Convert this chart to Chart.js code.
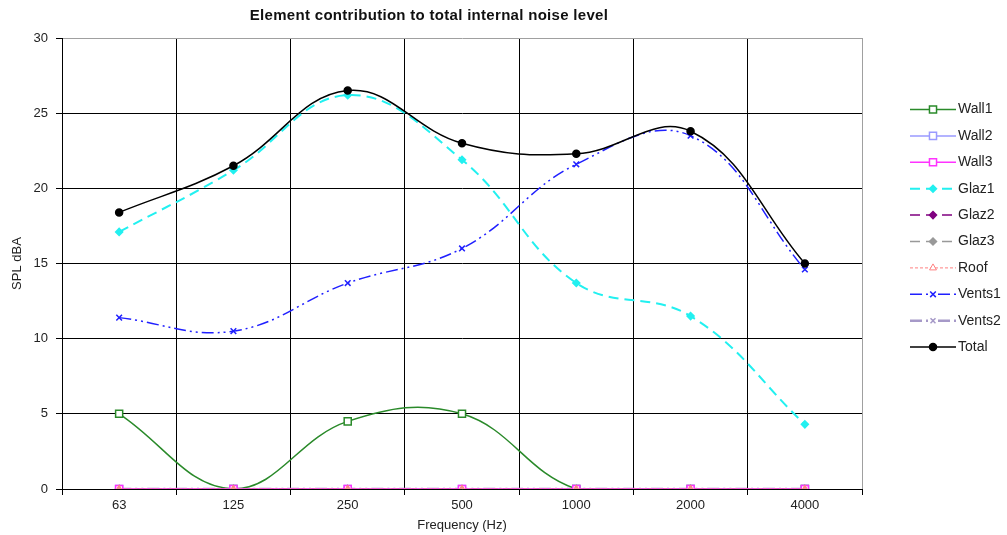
<!DOCTYPE html>
<html>
<head>
<meta charset="utf-8">
<script src="https://cdn.jsdelivr.net/npm/chart.js@4.4.1/dist/chart.umd.min.js"></script>
<style>
  html, body { margin: 0; padding: 0; background: #fff; }
  #wrap { width: 1007px; height: 535px; position: relative; }
</style>
</head>
<body>
<div id="wrap"><canvas id="noiseChart"></canvas></div>
<script>
// Frequency bands and element levels (SPL dBA)
const frequencies = ['63', '125', '250', '500', '1000', '2000', '4000'];
const wall1  = [5, 0, 4.5, 5, 0, 0, 0];
const wall2  = [0, 0, 0, 0, 0, 0, 0];
const wall3  = [0, 0, 0, 0, 0, 0, 0];
const glaz1  = [17.1, 21.2, 26.2, 21.9, 13.7, 11.5, 4.3];
const glaz2  = [0, 0, 0, 0, 0, 0, 0];
const glaz3  = [0, 0, 0, 0, 0, 0, 0];
const roof   = [0, 0, 0, 0, 0, 0, 0];
const vents1 = [11.4, 10.5, 13.7, 16.0, 21.6, 23.5, 14.6];
const vents2 = [0, 0, 0, 0, 0, 0, 0];
const total  = [18.4, 21.5, 26.5, 23.0, 22.3, 23.8, 15.0];

const yMin = 0, yMax = 30, yStep = 5;

Chart.defaults.font.family = '"Liberation Sans", Arial, sans-serif';
Chart.defaults.font.size = 13;
Chart.defaults.color = '#222';

function series(label, data, color, opts) {
  return Object.assign({
    label: label,
    data: data,
    borderColor: color,
    backgroundColor: color,
    pointBorderColor: color,
    pointBackgroundColor: '#fff',
    borderWidth: 1.5,
    pointRadius: 5,
    pointBorderWidth: 1.5,
    pointStyle: 'rect',
    tension: 0.4,
    fill: false
  }, opts || {});
}

const datasets = [
  series('Wall1', wall1, '#2a8a2a', { order: 10 }),
  series('Wall2', wall2, '#9a9aff', { order: 9 }),
  series('Wall3', wall3, '#ff33ff', { order: 2.6 }),
  series('Glaz1', glaz1, '#22f0f0', { order: 7, borderWidth: 2, borderDash: [10, 6], pointStyle: 'rectRot', pointRadius: 3.5, pointBackgroundColor: '#22f0f0' }),
  series('Glaz2', glaz2, '#800080', { order: 6, borderDash: [10, 6], pointStyle: 'rectRot', pointRadius: 3.5, pointBackgroundColor: '#800080' }),
  series('Glaz3', glaz3, '#999999', { order: 5, borderDash: [10, 6], pointStyle: 'rectRot', pointRadius: 3.5, pointBackgroundColor: '#999999' }),
  series('Roof', roof, '#ff8080', { order: 2.4, borderWidth: 1, borderDash: [3, 2], pointStyle: 'triangle', pointRadius: 4, pointBorderWidth: 1, pointBackgroundColor: '#f09090', legendFill: '#fff' }),
  series('Vents1', vents1, '#2020ff', { order: 3, borderDash: [12, 4, 2, 4, 2, 4], pointStyle: 'crossRot', pointRadius: 4 }),
  series('Vents2', vents2, '#a699c8', { order: 4, borderWidth: 2.5, borderDash: [12, 4, 2, 4, 2, 4], pointStyle: 'crossRot', pointRadius: 3.5 }),
  series('Total', total, '#000000', { order: 1, pointStyle: 'circle', pointRadius: 3.5, pointBackgroundColor: '#000' })
];

// Title, right-hand legend drawn on the canvas
const decorations = {
  id: 'decorations',
  afterDraw(chart) {
    const ctx = chart.ctx;
    ctx.save();
    ctx.fillStyle = '#111';
    ctx.font = 'bold 15px "Liberation Sans", Arial, sans-serif';
    ctx.letterSpacing = '0.3px';
    ctx.textAlign = 'center';
    ctx.textBaseline = 'middle';
    ctx.fillText('Element contribution to total internal noise level', 429, 16);
    ctx.letterSpacing = '0px';

    const x0 = 910, x1 = 956, xm = 933, xt = 958;
    let y = 109.5;
    ctx.font = '14px "Liberation Sans", Arial, sans-serif';
    ctx.textAlign = 'left';
    chart.data.datasets.forEach(ds => {
      ctx.save();
      ctx.strokeStyle = ds.borderColor;
      ctx.lineWidth = ds.borderWidth;
      ctx.setLineDash(ds.borderDash || []);
      ctx.beginPath();
      ctx.moveTo(x0, y);
      ctx.lineTo(x1, y);
      ctx.stroke();
      ctx.setLineDash([]);
      ctx.fillStyle = ds.legendFill || ds.pointBackgroundColor;
      ctx.strokeStyle = ds.pointBorderColor;
      ctx.lineWidth = ds.pointBorderWidth;
      Chart.helpers.drawPoint(ctx, { pointStyle: ds.pointStyle, radius: ds.pointRadius, rotation: 0, borderWidth: ds.pointBorderWidth }, xm, y);
      ctx.restore();
      ctx.fillStyle = '#222';
      ctx.fillText(ds.label, xt, y);
      y += 26.4;
    });
    ctx.restore();
  }
};

new Chart(document.getElementById('noiseChart'), {
  type: 'line',
  data: { labels: frequencies, datasets: datasets },
  plugins: [decorations],
  options: {
    responsive: true,
    maintainAspectRatio: false,
    animation: false,
    layout: { padding: { top: 38, right: 145, bottom: 0, left: 0 } },
    plugins: {
      legend: { display: false },
      title: { display: false },
      tooltip: { enabled: false }
    },
    scales: {
      x: {
        offset: true,
        afterFit(scale) { scale.height = 46; },
        grid: {
          offset: true,
          color: ctx => ctx.type === 'scale' ? '#a0a0a0' : '#000',
          lineWidth: 1,
          tickLength: 6,
          tickColor: '#000'
        },
        border: { color: '#000', width: 1 },
        ticks: { padding: 3, maxRotation: 0 },
        title: { display: true, text: 'Frequency (Hz)', padding: { top: 0, bottom: 2 } }
      },
      y: {
        min: yMin,
        max: yMax,
        afterFit(scale) { scale.width = 62; },
        grid: {
          color: ctx => ctx.tick && ctx.tick.value === yMax ? '#a0a0a0' : '#000',
          lineWidth: 1,
          tickLength: 6,
          tickColor: '#000'
        },
        border: { color: '#000', width: 1 },
        ticks: { stepSize: yStep, padding: 8 },
        title: { display: true, text: 'SPL dBA', padding: { top: 10, bottom: 0 } }
      }
    }
  }
});
</script>
</body>
</html>
